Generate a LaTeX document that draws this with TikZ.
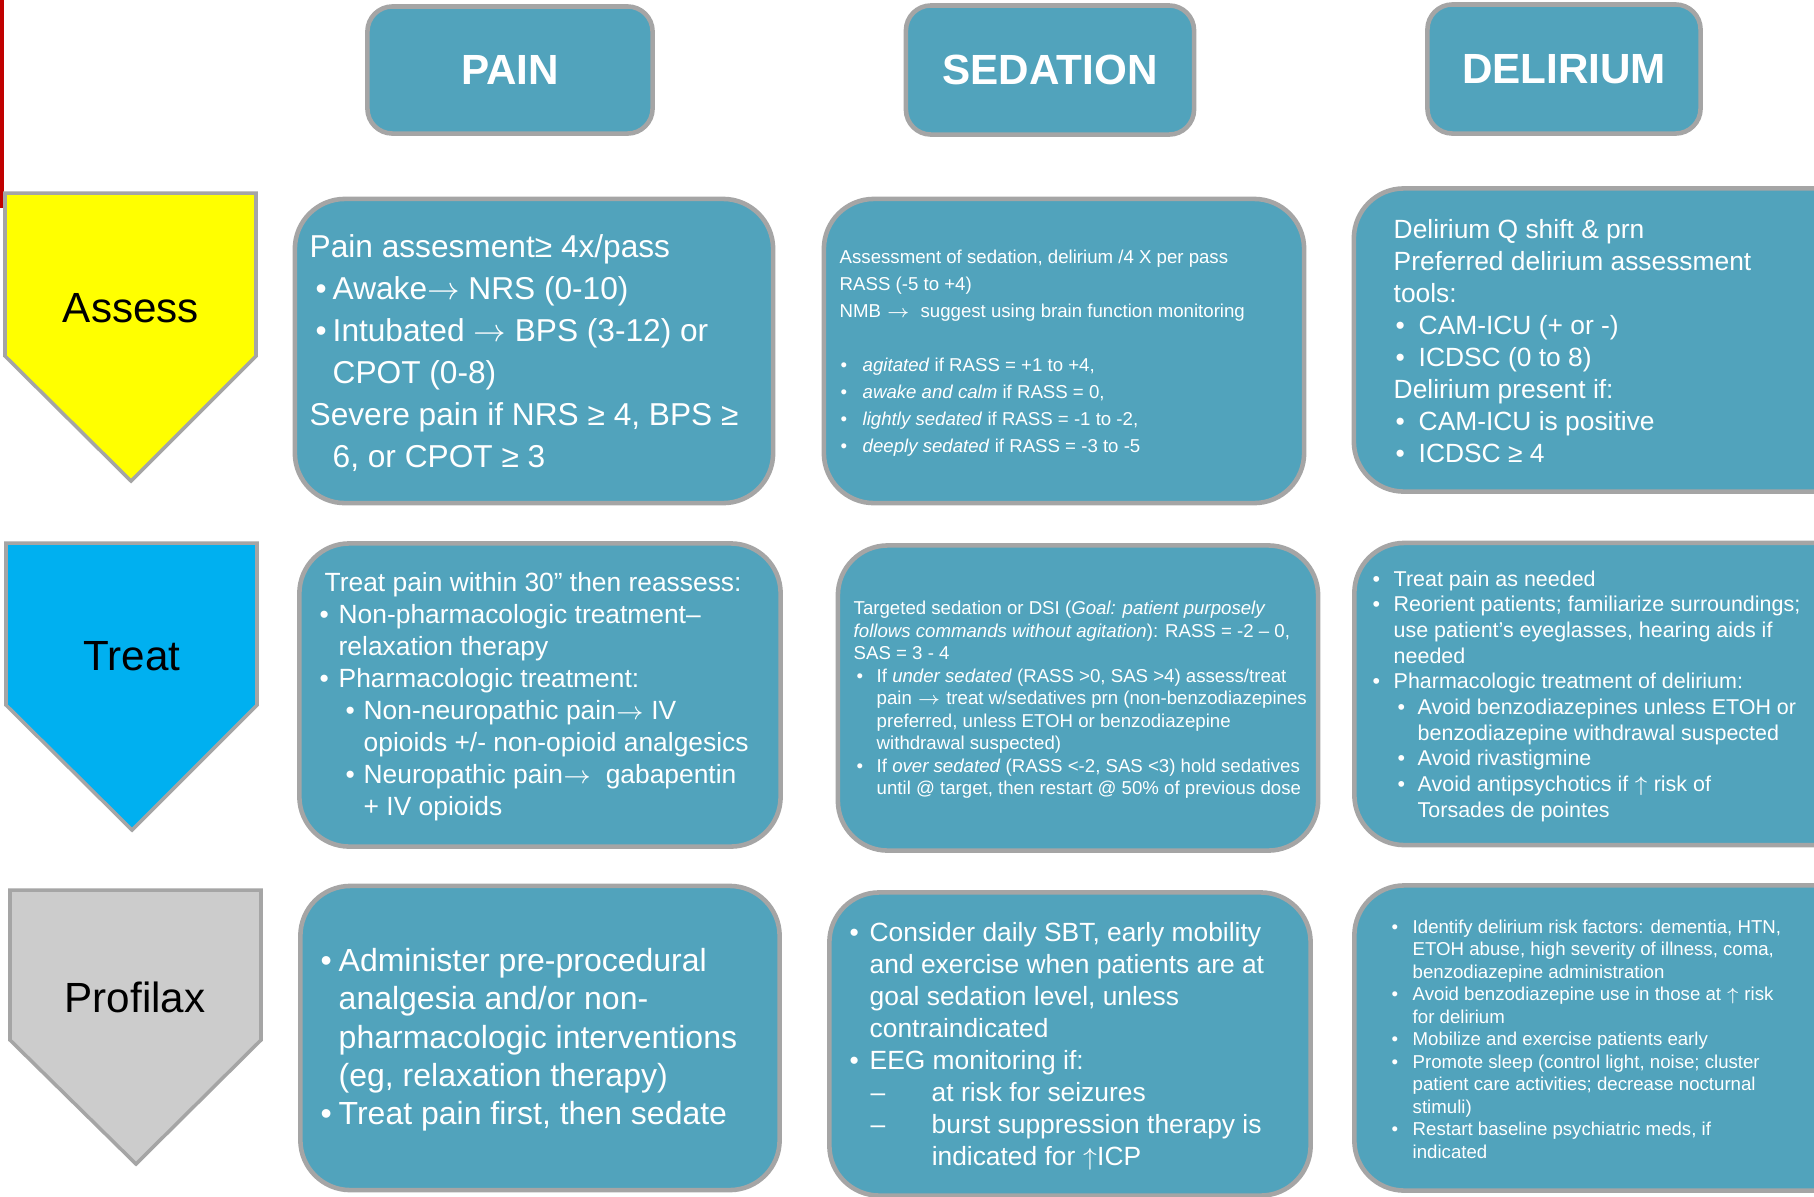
\documentclass[tikz,border=0pt]{standalone}
\usepackage{fontspec}
\setmainfont{Liberation Sans}
\usepackage{xcolor}

\definecolor{cellfill}{HTML}{51A3BC}
\definecolor{cellline}{HTML}{A5A5A5}
\definecolor{assessyellow}{HTML}{FFFF00}
\definecolor{treatblue}{HTML}{00B0F0}
\definecolor{profgray}{HTML}{CCCCCC}
\definecolor{slidered}{HTML}{C00000}

% bullet: offset, gap to text
\newcommand{\blt}[2]{\hspace*{#1}\makebox[#2][l]{\textbullet}}
\newcommand{\ra}{$\rightarrow$}
\newcommand{\up}{$\uparrow$}

\begin{document}
\begin{tikzpicture}[
    x=0.01cm, y=-0.01cm,
    hdr/.style={draw=cellline, line width=1.3pt, fill=cellfill, rounded corners=0.25cm, text=white, font=\bfseries\fontsize{12}{14}\selectfont},
    cellbox/.style={draw=cellline, line width=1.3pt, fill=cellfill, rounded corners=0.5cm, inner sep=0pt},
    celltxt/.style={anchor=west, align=left, inner sep=0pt, text=white},
    phase/.style={draw=cellline, line width=1pt},
    phaselbl/.style={font=\fontsize{12}{14}\selectfont, text=black},
]
\useasboundingbox (0,0) rectangle (1814,1196);
\clip (0,0) rectangle (1814,1196);
\fill[white] (0,0) rectangle (1814,1196);
\fill[slidered] (0,0) rectangle (4,208);

% column heads
\node[hdr, minimum width=2.85cm, minimum height=1.27cm] (pain) at (510,70) {PAIN};
\node[hdr, minimum width=2.88cm, minimum height=1.29cm] (sed) at (1050,70) {SEDATION};
\node[hdr, minimum width=2.73cm, minimum height=1.29cm] (del) at (1564,69) {DELIRIUM};

% phases
\draw[phase, fill=assessyellow] (5,193) -- (256,193) -- (256,356) -- (131,481) -- (5,356) -- cycle;
\draw[phase, fill=treatblue] (6,543) -- (257,543) -- (257,705) -- (132,830) -- (6,705) -- cycle;
\draw[phase, fill=profgray] (10,890) -- (261,890) -- (261,1040) -- (136,1164) -- (10,1040) -- cycle;
\node[phaselbl] (assess) at (131,308) {Assess};
\node[phaselbl] (treat) at (132,656) {Treat};
\node[phaselbl] (profilax) at (135,997) {Profilax};

% boxes
\node[cellbox, minimum width=4.78cm, minimum height=3.04cm] (painAs) at (534,351) {};
\node[cellbox, minimum width=4.80cm, minimum height=3.04cm] (sedAs) at (1064,351) {};
\node[cellbox, minimum width=5.24cm, minimum height=3.03cm] (delAs) at (1616,340) {};
\node[cellbox, minimum width=4.81cm, minimum height=3.03cm] (painTr) at (540,695) {};
\node[cellbox, minimum width=4.80cm, minimum height=3.05cm] (sedTr) at (1078,698) {};
\node[cellbox, minimum width=5.23cm, minimum height=3.02cm] (delTr) at (1616,694) {};
\node[cellbox, minimum width=4.79cm, minimum height=3.04cm] (painPr) at (540,1038) {};
\node[cellbox, minimum width=4.81cm, minimum height=3.03cm] (sedPr) at (1070,1044) {};
\node[cellbox, minimum width=5.23cm, minimum height=3.05cm] (delPr) at (1616,1038) {};

% assess row
\node[celltxt, font=\fontsize{9}{11.9}\selectfont] (painAsT) at (309,353) {Pain assesment≥ 4x/pass\\
\blt{0.06cm}{0.17cm}Awake\ra\ NRS (0-10)\\
\blt{0.06cm}{0.17cm}Intubated \ra\ BPS (3-12) or\\
\hspace*{0.23cm}CPOT (0-8)\\
Severe pain if NRS ≥ 4, BPS ≥\\
\hspace*{0.23cm}6, or CPOT ≥ 3};

\node[celltxt, font=\fontsize{5.3}{7.7}\selectfont] (sedAsT) at (839,353) {Assessment of sedation, delirium /4 X per pass\\
RASS (-5 to +4)\\
NMB \ra\ \ suggest using brain function monitoring\\[7.7pt]
\blt{0.01cm}{0.22cm}\textit{agitated} if RASS = +1 to +4,\\
\blt{0.01cm}{0.22cm}\textit{awake and calm} if RASS = 0,\\
\blt{0.01cm}{0.22cm}\textit{lightly sedated} if RASS = -1 to -2,\\
\blt{0.01cm}{0.22cm}\textit{deeply sedated} if RASS = -3 to -5};

\node[celltxt, font=\fontsize{7.5}{9.1}\selectfont] (delAsT) at (1393,341) {Delirium Q shift \& prn\\
Preferred delirium assessment\\
tools:\\
\blt{0.02cm}{0.23cm}CAM-ICU (+ or -)\\
\blt{0.02cm}{0.23cm}ICDSC (0 to 8)\\
Delirium present if:\\
\blt{0.02cm}{0.23cm}CAM-ICU is positive\\
\blt{0.02cm}{0.23cm}ICDSC ≥ 4};

% treat row
\node[celltxt, font=\fontsize{7.5}{9.1}\selectfont] (painTrT) at (319,697) {\hspace*{0.05cm}Treat pain within 30” then reassess:\\
\blt{0cm}{0.19cm}Non-pharmacologic treatment–\\
\hspace*{0.19cm}relaxation therapy\\
\blt{0cm}{0.19cm}Pharmacologic treatment:\\
\blt{0.26cm}{0.18cm}Non-neuropathic pain\ra\ IV\\
\hspace*{0.44cm}opioids +/- non-opioid analgesics\\
\blt{0.26cm}{0.18cm}Neuropathic pain\ra\ \ gabapentin\\
\hspace*{0.44cm}+ IV opioids};

\node[celltxt, font=\fontsize{5.3}{6.4}\selectfont] (sedTrT) at (853,700) {Targeted sedation or DSI (\textit{Goal: patient purposely}\\
\textit{follows commands without agitation}): RASS = -2 – 0,\\
SAS = 3 - 4\\
\blt{0.03cm}{0.20cm}If \textit{under sedated} (RASS >0, SAS >4) assess/treat\\
\hspace*{0.23cm}pain \ra\ treat w/sedatives prn (non-benzodiazepines\\
\hspace*{0.23cm}preferred, unless ETOH or benzodiazepine\\
\hspace*{0.23cm}withdrawal suspected)\\
\blt{0.03cm}{0.20cm}If \textit{over sedated} (RASS <-2, SAS <3) hold sedatives\\
\hspace*{0.23cm}until @ target, then restart @ 50\% of previous dose};

\node[celltxt, font=\fontsize{6.1}{7.3}\selectfont] (delTrT) at (1372,696) {\blt{0cm}{0.21cm}Treat pain as needed\\
\blt{0cm}{0.21cm}Reorient patients; familiarize surroundings;\\
\hspace*{0.21cm}use patient’s eyeglasses, hearing aids if\\
\hspace*{0.21cm}needed\\
\blt{0cm}{0.21cm}Pharmacologic treatment of delirium:\\
\blt{0.25cm}{0.20cm}Avoid benzodiazepines unless ETOH or\\
\hspace*{0.45cm}benzodiazepine withdrawal suspected\\
\blt{0.25cm}{0.20cm}Avoid rivastigmine\\
\blt{0.25cm}{0.20cm}Avoid antipsychotics if \up\ risk of\\
\hspace*{0.45cm}Torsades de pointes};

% profilax row
\node[celltxt, font=\fontsize{9.1}{10.9}\selectfont] (painPrT) at (320,1040) {\blt{0cm}{0.18cm}Administer pre-procedural\\
\hspace*{0.18cm}analgesia and/or non-\\
\hspace*{0.18cm}pharmacologic interventions\\
\hspace*{0.18cm}(eg, relaxation therapy)\\
\blt{0cm}{0.18cm}Treat pain first, then sedate};

\node[celltxt, font=\fontsize{7.5}{9.1}\selectfont] (sedPrT) at (849,1046) {\blt{0cm}{0.20cm}Consider daily SBT, early mobility\\
\hspace*{0.20cm}and exercise when patients are at\\
\hspace*{0.20cm}goal sedation level, unless\\
\hspace*{0.20cm}contraindicated\\
\blt{0cm}{0.20cm}EEG monitoring if:\\
\hspace*{0.21cm}\makebox[0.61cm][l]{–}at risk for seizures\\
\hspace*{0.21cm}\makebox[0.61cm][l]{–}burst suppression therapy is\\
\hspace*{0.82cm}indicated for \up ICP};

\node[celltxt, font=\fontsize{5.3}{6.4}\selectfont] (delPrT) at (1391,1039) {\blt{0cm}{0.21cm}Identify delirium risk factors: dementia, HTN,\\
\hspace*{0.21cm}ETOH abuse, high severity of illness, coma,\\
\hspace*{0.21cm}benzodiazepine administration\\
\blt{0cm}{0.21cm}Avoid benzodiazepine use in those at \up\ risk\\
\hspace*{0.21cm}for delirium\\
\blt{0cm}{0.21cm}Mobilize and exercise patients early\\
\blt{0cm}{0.21cm}Promote sleep (control light, noise; cluster\\
\hspace*{0.21cm}patient care activities; decrease nocturnal\\
\hspace*{0.21cm}stimuli)\\
\blt{0cm}{0.21cm}Restart baseline psychiatric meds, if\\
\hspace*{0.21cm}indicated};

\end{tikzpicture}
\end{document}
